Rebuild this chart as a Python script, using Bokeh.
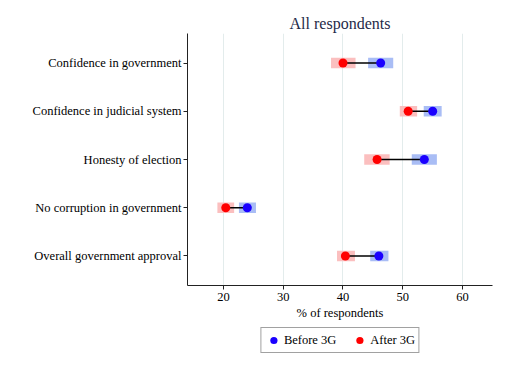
from bokeh.plotting import figure
from bokeh.layouts import column
from bokeh.models import FactorRange, Range1d, Legend, LegendItem, FixedTicker
from bokeh.embed import file_html
from bokeh.resources import INLINE

categories = ["Confidence in government", "Confidence in judicial system",
              "Honesty of election", "No corruption in government",
              "Overall government approval"]
before = [46.3, 55.0, 53.6, 24.0, 46.0]
before_lo = [44.2, 53.5, 51.5, 22.6, 44.55]
before_hi = [48.4, 56.5, 55.7, 25.45, 47.6]
after = [40.0, 50.9, 45.7, 20.4, 40.4]
after_lo = [38.0, 49.5, 43.55, 19.0, 39.0]
after_hi = [42.1, 52.4, 47.8, 21.8, 42.0]
x_ticks = [20, 30, 40, 50, 60]
series_labels = ["Before 3G", "After 3G"]

FONT = "Liberation Serif"
BLUE = "#1a00ff"
RED = "#ff0000"

p = figure(frame_width=305, frame_height=252, output_backend="svg", toolbar_location=None,
           y_range=FactorRange(factors=categories[::-1], range_padding=0.045),
           x_range=Range1d(14, 65),
           min_border_left=187, min_border_right=8, min_border_top=33,
           min_border_bottom=40)
p.outline_line_color = None
p.background_fill_color = "white"
p.border_fill_color = "white"

p.title.text = "All respondents"
p.title.align = "center"
p.title.text_font = FONT
p.title.text_font_size = "16px"
p.title.text_font_style = "normal"
p.title.text_color = "#1f2a48"
p.title.standoff = 3

p.hbar(y=categories, left=after_lo, right=after_hi, height=0.215,
       fill_color="#fbbfbf", line_color=None)
p.hbar(y=categories, left=before_lo, right=before_hi, height=0.215,
       fill_color="#a9bdf5", line_color=None)
p.segment(x0=after, y0=categories, x1=before, y1=categories,
          line_color="black", line_width=1.5)
p.scatter(x=before, y=categories, size=9, fill_color=BLUE, line_color=None)
p.scatter(x=after, y=categories, size=9, fill_color=RED, line_color=None)

p.xaxis.ticker = FixedTicker(ticks=x_ticks)
p.xaxis.axis_label = "% of respondents"
p.xaxis.axis_label_text_font = FONT
p.xaxis.axis_label_text_font_style = "normal"
p.xaxis.axis_label_text_font_size = "12.5px"
p.xaxis.axis_label_text_color = "black"
p.xaxis.axis_label_standoff = 2
for ax in (p.xaxis, p.yaxis):
    ax.major_label_text_font = FONT
    ax.major_label_text_font_size = "12.5px"
    ax.major_label_text_color = "black"
    ax.axis_line_color = "#222222"
    ax.major_tick_line_color = "#222222"
    ax.minor_tick_line_color = None
    ax.major_tick_in = 0
    ax.major_tick_out = 4
    ax.major_label_standoff = 3
p.yaxis.major_label_standoff = 2

p.xgrid.grid_line_color = "#e3ecec"
p.xgrid.ticker = FixedTicker(ticks=x_ticks)
p.ygrid.grid_line_color = None

# legend holder figure (its ranges keep the proxy points out of view)
lf = figure(frame_width=305, frame_height=34, output_backend="svg", toolbar_location=None,
            x_axis_location=None, y_axis_location=None,
            x_range=Range1d(0, 1), y_range=Range1d(0, 1),
            min_border_left=187, min_border_right=8, min_border_top=0,
            min_border_bottom=0)
lf.outline_line_color = None
lf.grid.grid_line_color = None
lb = lf.scatter(x=before[:1], y=after[:1], size=9, fill_color=BLUE, line_color=None)
la = lf.scatter(x=after[:1], y=before[:1], size=9, fill_color=RED, line_color=None)

legend = Legend(items=[LegendItem(label=series_labels[0], renderers=[lb]),
                       LegendItem(label=series_labels[1], renderers=[la])],
                orientation="horizontal", location="top_center",
                label_text_font=FONT, label_text_font_size="12.5px",
                label_text_color="black",
                border_line_color="#444444", border_line_width=1,
                glyph_width=18, glyph_height=18, label_standoff=2,
                spacing=14, padding=3, margin=2,
                label_height=14)
lf.add_layout(legend, "center")

layout = column(p, lf, spacing=0)
open("out.html", "w").write(file_html(layout, INLINE))
